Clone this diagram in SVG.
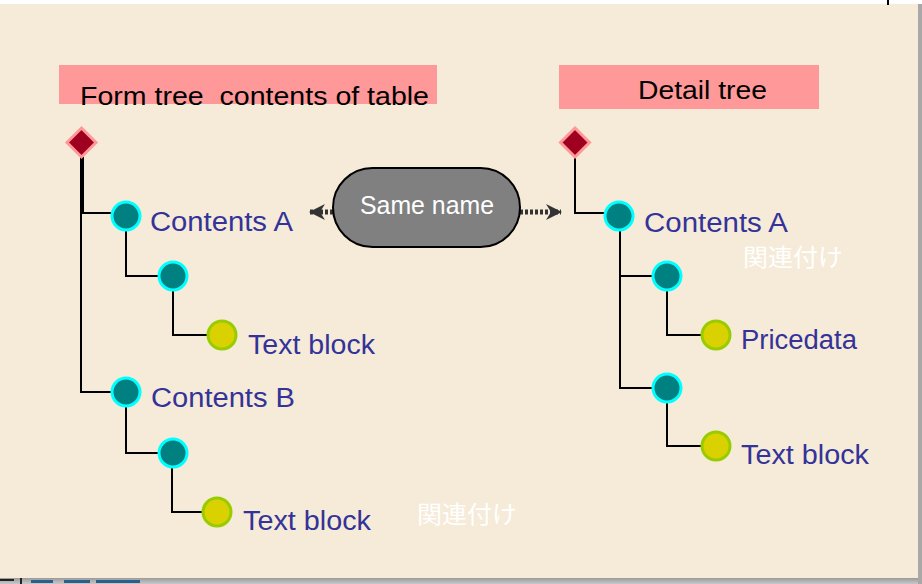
<svg xmlns="http://www.w3.org/2000/svg" width="922" height="584" viewBox="0 0 922 584">
  <defs>
    <linearGradient id="shadowB" x1="0" y1="0" x2="0" y2="1">
      <stop offset="0" stop-color="#9a9a9a"/>
      <stop offset="1" stop-color="#c8c8c8"/>
    </linearGradient>
    <marker id="head" viewBox="0 0 16 16" refX="15" refY="8" markerWidth="16" markerHeight="16" markerUnits="userSpaceOnUse" orient="auto-start-reverse">
      <path d="M0,0 L16,8 L0,16 L5,8 z" fill="#333333"/>
    </marker>
  </defs>
  <style>
    .hdr { fill: #FF9999; }
    .hdrtxt { font-family: "Liberation Sans", "Noto Sans CJK JP", sans-serif; font-size: 25px; fill: #000000; }
    .lbl { font-family: "Liberation Sans", "Noto Sans CJK JP", sans-serif; font-size: 27px; fill: #333399; }
    .note { font-family: "Noto Sans CJK JP", sans-serif; font-size: 24px; fill: #FFFFFF; }
    .root { fill: #A00020; stroke: #FF9999; stroke-width: 3; }
    .branch { fill: #008080; stroke: #00FFFF; stroke-width: 3; }
    .leaf { fill: #D9D100; stroke: #99CC00; stroke-width: 3; }
    .wire { fill: none; stroke: #000000; stroke-width: 2; }
    .link { fill: none; stroke: #333333; stroke-width: 5; stroke-dasharray: 3 2; }
  </style>

  <!-- page -->
  <rect x="0" y="0" width="922" height="584" fill="#FFFFFF"/>
  <rect x="0" y="578" width="922" height="6" fill="url(#shadowB)"/>
  <rect x="918" y="4" width="4" height="580" fill="#a8a8a8"/>
  <rect x="0" y="4" width="918" height="574" fill="#F6EBD8"/>
  <rect x="887" y="0" width="2" height="5" fill="#000000"/>
  <rect x="0" y="579" width="14" height="2" fill="#222222"/>
  <rect x="20" y="578" width="2" height="6" fill="#222222"/>
  <rect x="31" y="580" width="22" height="3" fill="#2b5f8a"/>
  <rect x="64" y="580" width="26" height="3" fill="#2b5f8a"/>
  <rect x="96" y="580" width="44" height="3" fill="#2b5f8a"/>

  <!-- headers -->
  <g id="header-form">
    <rect class="hdr" x="59" y="65" width="378" height="39"/>
    <text class="hdrtxt" x="80" y="105" textLength="349" lengthAdjust="spacingAndGlyphs">Form tree&#160; contents of table</text>
  </g>
  <g id="header-detail">
    <rect class="hdr" x="559" y="65" width="260" height="44"/>
    <text class="hdrtxt" x="638" y="99" textLength="129" lengthAdjust="spacingAndGlyphs">Detail tree</text>
  </g>

  <!-- connectors -->
  <g id="connectors">
    <!-- form tree -->
    <polyline class="wire" points="83,157 83,213 112,213"/>
    <polyline class="wire" points="81,157 81,392 112,392"/>
    <polyline class="wire" points="126,230 126,276 160,276"/>
    <polyline class="wire" points="173,290 173,335 208,335"/>
    <polyline class="wire" points="126,406 126,453 160,453"/>
    <polyline class="wire" points="172,467 172,512 203,512"/>
    <!-- detail tree -->
    <polyline class="wire" points="575,157 575,213 605,213"/>
    <polyline class="wire" points="620,230 620,388 653,388"/>
    <line class="wire" x1="620" y1="276" x2="653" y2="276"/>
    <polyline class="wire" points="667,290 667,335 702,335"/>
    <polyline class="wire" points="667,402 667,446 702,446"/>
    <!-- same-name links -->
    <line class="link" x1="333" y1="212" x2="310" y2="212" marker-end="url(#head)"/>
    <line class="link" x1="520" y1="212" x2="561" y2="212" marker-end="url(#head)"/>
  </g>

  <!-- form tree nodes -->
  <g id="form-root"><polygon class="root" points="81.5,128 96,142.5 81.5,157 67,142.5"/></g>
  <g id="form-contents-a">
    <circle class="branch" cx="126" cy="216" r="14"/>
    <text class="lbl" x="150" y="231" textLength="143" lengthAdjust="spacingAndGlyphs">Contents A</text>
  </g>
  <g id="form-a-item"><circle class="branch" cx="173" cy="276" r="14"/></g>
  <g id="form-a-textblock">
    <circle class="leaf" cx="222" cy="335" r="14"/>
    <text class="lbl" x="248" y="354" textLength="127" lengthAdjust="spacingAndGlyphs">Text block</text>
  </g>
  <g id="form-contents-b">
    <circle class="branch" cx="126" cy="392" r="14"/>
    <text class="lbl" x="151" y="407" textLength="144" lengthAdjust="spacingAndGlyphs">Contents B</text>
  </g>
  <g id="form-b-item"><circle class="branch" cx="173" cy="453" r="14"/></g>
  <g id="form-b-textblock">
    <circle class="leaf" cx="217" cy="512" r="14"/>
    <text class="lbl" x="243" y="530" textLength="128" lengthAdjust="spacingAndGlyphs">Text block</text>
  </g>

  <!-- same name -->
  <g id="same-name">
    <rect x="333" y="168" width="187" height="79" rx="39.5" ry="39.5" fill="#808080" stroke="#000000" stroke-width="2"/>
    <text x="427" y="214" text-anchor="middle" font-family="Liberation Sans, sans-serif" font-size="25" fill="#FFFFFF" textLength="134" lengthAdjust="spacingAndGlyphs">Same name</text>
  </g>

  <!-- detail tree nodes -->
  <g id="detail-root"><polygon class="root" points="575,128 589.5,142.5 575,157 560.5,142.5"/></g>
  <g id="detail-contents-a">
    <circle class="branch" cx="619" cy="216" r="14"/>
    <text class="lbl" x="644" y="232" textLength="144" lengthAdjust="spacingAndGlyphs">Contents A</text>
  </g>
  <g id="detail-item-1"><circle class="branch" cx="667" cy="276" r="14"/></g>
  <g id="detail-pricedata">
    <circle class="leaf" cx="716" cy="335" r="14"/>
    <text class="lbl" x="741" y="349" textLength="116" lengthAdjust="spacingAndGlyphs">Pricedata</text>
  </g>
  <g id="detail-item-2"><circle class="branch" cx="667" cy="388" r="14"/></g>
  <g id="detail-textblock">
    <circle class="leaf" cx="716" cy="446" r="14"/>
    <text class="lbl" x="741" y="464" textLength="128" lengthAdjust="spacingAndGlyphs">Text block</text>
  </g>

  <!-- association notes -->
  <text class="note" x="743" y="266" textLength="100" lengthAdjust="spacingAndGlyphs">関連付け</text>
  <text class="note" x="417" y="523" textLength="100" lengthAdjust="spacingAndGlyphs">関連付け</text>
</svg>
